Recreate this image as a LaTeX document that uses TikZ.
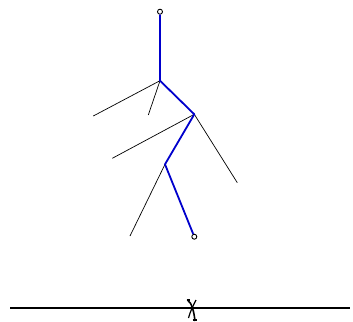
\documentclass[tikz,border=0pt]{standalone}
\begin{document}
\begin{tikzpicture}[x=1pt,y=-1pt,
  thin/.style={black,line width=0.7pt},
  path/.style={blue!80!black,line width=1.8pt},
  endpt/.style={circle,draw=black,line width=0.9pt,fill=white,inner sep=0pt,minimum size=5pt}]
\useasboundingbox (0,0) rectangle (353,321);
\coordinate (A) at (160,80.7);
\coordinate (B) at (194.3,114.3);
\coordinate (C) at (165,164.3);
\coordinate (a1) at (93.3,116);
\coordinate (a2) at (148.3,115);
\coordinate (b1) at (112.3,158.3);
\coordinate (b2) at (237.3,182.7);
\coordinate (c1) at (130,236);
\draw[thin] (A) -- (a1);
\draw[thin] (A) -- (a2);
\draw[thin] (B) -- (b1);
\draw[thin] (B) -- (b2);
\draw[thin] (C) -- (c1);
\node[endpt] (top) at (160,11.7) {};
\node[endpt] (bot) at (194.3,236.7) {};
\draw[path,line join=round] (top) -- (A) -- (B) -- (C) -- (bot);
\coordinate (L) at (10,308);
\coordinate (R) at (350,308);
\draw[black,line width=2pt] (L) -- (R);
\draw[black,line width=1.6pt] (187.5,300) .. controls (192,303) and (194,312) .. (195,321);
\draw[black,line width=1.2pt] (196,300) .. controls (193,306) and (190,312) .. (188.5,318);
\draw[black,line width=1.2pt] (186.5,300) -- (189.5,300);
\draw[black,line width=1.6pt] (192.5,320) -- (197,320);
\end{tikzpicture}
\end{document}
